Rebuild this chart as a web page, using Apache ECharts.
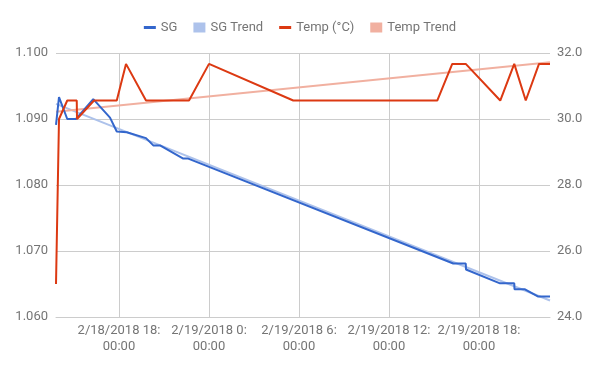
<!DOCTYPE html>
<html><head><meta charset="utf-8">
<script src="https://cdn.jsdelivr.net/npm/echarts@6/dist/echarts.min.js"></script>
<style>html,body{margin:0;padding:0;background:#fff}#c{width:600px;height:371px}</style>
</head><body><div id="c"></div>
<script>
// ---- data ----
const sgTimes = ['2018-02-18 13:48','2018-02-18 14:00','2018-02-18 14:33','2018-02-18 15:08','2018-02-18 16:17','2018-02-18 17:24','2018-02-18 17:51','2018-02-18 18:31','2018-02-18 19:48','2018-02-18 20:17','2018-02-18 20:44','2018-02-18 22:17','2018-02-18 22:37','2018-02-19 16:17','2018-02-19 17:07','2018-02-19 17:08','2018-02-19 19:24','2018-02-19 20:21','2018-02-19 20:22','2018-02-19 21:04','2018-02-19 21:57','2018-02-19 22:44'];
const sgValues = [1.0891,1.0933,1.0900,1.0900,1.0930,1.0902,1.0881,1.0880,1.0871,1.0860,1.0860,1.0840,1.0840,1.0681,1.0681,1.0672,1.0651,1.0651,1.0642,1.0642,1.0631,1.0631];
const tempTimes = ['2018-02-18 13:48','2018-02-18 14:00','2018-02-18 14:33','2018-02-18 15:11','2018-02-18 15:12','2018-02-18 16:20','2018-02-18 17:51','2018-02-18 18:28','2018-02-18 19:48','2018-02-18 22:40','2018-02-19 00:00','2018-02-19 05:37','2018-02-19 15:13','2018-02-19 16:13','2018-02-19 17:07','2018-02-19 19:25','2018-02-19 20:21','2018-02-19 21:07','2018-02-19 22:00','2018-02-19 22:44'];
const tempValues = [25.0,30.0,30.56,30.56,30.0,30.56,30.56,31.67,30.56,30.56,31.67,30.56,30.56,31.67,31.67,30.56,31.67,30.56,31.67,31.67];
const trendTimes = ['2018-02-18 13:48','2018-02-19 22:44'];
const sgTrendValues = [1.0923,1.0625];
const tempTrendValues = [30.22,31.72];
const xTickLabels = ['2018-02-18 18:00','2018-02-19 00:00','2018-02-19 06:00','2018-02-19 12:00','2018-02-19 18:00'];
const xMin = '2018-02-18 13:48', xMax = '2018-02-19 22:44';

// hours since 2018-02-18 00:00
const BASE = Date.UTC(2018,1,18,0,0);
function h(s){ const [d,tm]=s.split(' '); const [Y,M,D]=d.split('-').map(Number); const [H,Mi]=tm.split(':').map(Number); return (Date.UTC(Y,M-1,D,H,Mi)-BASE)/3600000; }
function pair(ts, vs){ return ts.map((s,i)=>[h(s), vs[i]]); }
function pad(n){ return (n<10?'0':'')+n; }

const font = 'Roboto';
const txt = '#757575';
const lineIcon = 'path://M0,0L0,0M12,10L12,10M0,3.5L12,3.5L12,6.5L0,6.5Z';
const chart = echarts.init(document.getElementById('c'), null, {renderer:'canvas'});
const ticks = xTickLabels.map(h);
chart.setOption({
  animation:false,
  textStyle:{fontFamily:font},
  legend:{
    top:16, left:'center', itemWidth:12, itemHeight:10, itemGap:16,
    textStyle:{fontFamily:font, fontSize:13, color:txt},
    data:[
      {name:'SG', icon:lineIcon},
      {name:'SG Trend', icon:'rect'},
      {name:'Temp (°C)', icon:lineIcon},
      {name:'Temp Trend', icon:'rect'}
    ]
  },
  grid:{left:56, right:50, top:53, bottom:54},
  xAxis:{
    type:'value', min:h(xMin), max:h(xMax),
    axisLine:{show:true, lineStyle:{color:'#cccccc', width:1}},
    axisTick:{show:false, customValues: ticks},
    splitLine:{show:true, lineStyle:{color:'#cccccc', width:1}},
    axisLabel:{
      customValues: ticks,
      fontFamily:font, fontSize:13, color:txt, lineHeight:16, margin:6,
      formatter:function(v){ const d=new Date(BASE+v*3600000); return (d.getUTCMonth()+1)+'/'+d.getUTCDate()+'/'+d.getUTCFullYear()+' '+d.getUTCHours()+':\n'+pad(d.getUTCMinutes())+':00'; }
    }
  },
  yAxis:[
    {type:'value', min:1.06, max:1.10, interval:0.01,
     axisLine:{show:false}, axisTick:{show:false},
     splitLine:{lineStyle:{color:'#cccccc'}},
     axisLabel:{fontFamily:font, fontSize:13, color:txt, margin:8, formatter:v=>v.toFixed(3)}},
    {type:'value', min:24, max:32, interval:2, position:'right',
     axisLine:{show:false}, axisTick:{show:false},
     splitLine:{show:false},
     axisLabel:{fontFamily:font, fontSize:13, color:txt, margin:7, formatter:v=>v.toFixed(1)}}
  ],
  series:[
    {name:'SG', type:'line', yAxisIndex:0, data:pair(sgTimes,sgValues), showSymbol:false, symbol:'none', z:4,
     lineStyle:{color:'#3366cc', width:2}, itemStyle:{color:'#3366cc'}},
    {name:'SG Trend', type:'line', yAxisIndex:0, data:pair(trendTimes,sgTrendValues), showSymbol:false, symbol:'none', z:2,
     lineStyle:{color:'#adc2eb', width:2}, itemStyle:{color:'#adc2eb'}},
    {name:'Temp (°C)', type:'line', yAxisIndex:1, data:pair(tempTimes,tempValues), showSymbol:false, symbol:'none', z:4,
     lineStyle:{color:'#dc3912', width:2}, itemStyle:{color:'#dc3912'}},
    {name:'Temp Trend', type:'line', yAxisIndex:1, data:pair(trendTimes,tempTrendValues), showSymbol:false, symbol:'none', z:2,
     lineStyle:{color:'#f1b0a0', width:2}, itemStyle:{color:'#f1b0a0'}}
  ]
});
</script></body></html>
